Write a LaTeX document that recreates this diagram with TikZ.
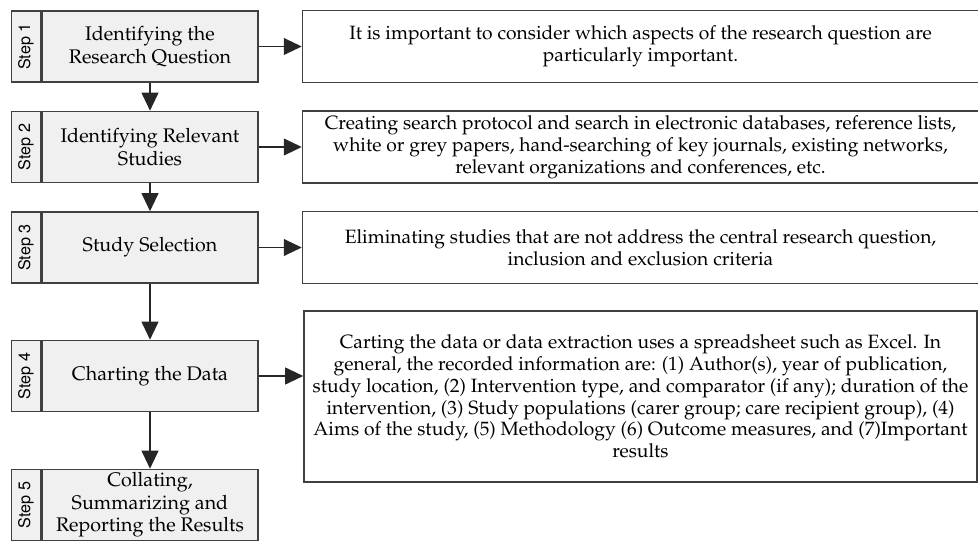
\documentclass[tikz,border=0pt]{standalone}
\usepackage[T1]{fontenc}
\usepackage{mathpazo}
\usepackage[scaled=0.92]{helvet}
\usepackage{graphicx}
\usetikzlibrary{positioning,arrows.meta}
\definecolor{edgegray}{RGB}{64,64,64}
\definecolor{boxgray}{RGB}{240,240,240}
\tikzset{stepbox/.style={draw=edgegray, fill=boxgray, line width=1.1pt,
      minimum width=5.4cm, minimum height=1.775cm, inner sep=0pt,
      align=center, font=\fontsize{14}{16}\selectfont}}
\tikzset{tagbox/.style={draw=edgegray, fill=boxgray, line width=1.1pt,
      minimum width=0.725cm, minimum height=1.775cm, inner sep=0pt,
      font=\sffamily\fontsize{12.5}{14}\selectfont}}
\tikzset{notebox/.style={draw=edgegray, fill=white, line width=1.1pt,
      minimum width=16.9cm, minimum height=1.8cm, inner sep=0pt,
      align=center, font=\fontsize{13.7}{15.5}\selectfont}}
\tikzset{flow/.style={draw=black!85, line width=1.1pt,
      -{Triangle[length=0.45cm, width=0.42cm]}}}

\begin{document}
\begin{tikzpicture}
    \useasboundingbox (0,0) rectangle (24.45,-13.575);

    % the five steps
    \node[stepbox] (s1) at (3.75,-1.1625) {Identifying the\\Research Question};
    \node[stepbox] (s2) at (3.75,-3.675) {Identifying Relevant\\Studies};
    \node[stepbox] (s3) at (3.75,-6.1875) {Study Selection};
    \node[stepbox] (s4) at (3.75,-9.4) {Charting the Data};
    \node[stepbox] (s5) at (3.75,-12.625) {Collating,\\Summarizing and\\Reporting the Results};

    \node[tagbox, left=0pt of s1] (t1) {\rotatebox{90}{Step 1}};
    \node[tagbox, left=0pt of s2] (t2) {\rotatebox{90}{Step 2}};
    \node[tagbox, left=0pt of s3] (t3) {\rotatebox{90}{Step 3}};
    \node[tagbox, left=0pt of s4] (t4) {\rotatebox{90}{Step 4}};
    \node[tagbox, left=0pt of s5] (t5) {\rotatebox{90}{Step 5}};

    % notes on the right
    \node[notebox, right=1.075cm of s1] (n1) {It is important to consider which aspects of the research question are\\particularly important.};
    \node[notebox, right=1.075cm of s2] (n2) {Creating search protocol and search in electronic databases, reference lists,\\white or grey papers, hand-searching of key journals, existing networks,\\relevant organizations and conferences, etc.};
    \node[notebox, right=1.075cm of s3] (n3) {Eliminating studies that are not address the central research question,\\inclusion and exclusion criteria};
    \node[notebox, minimum width=16.825cm, minimum height=4.275cm] (n4) at (16.0125,-9.9125) {Carting the data or data extraction uses a spreadsheet such as Excel. In\\general, the recorded information are: (1) Author(s), year of publication,\\study location, (2) Intervention type, and comparator (if any); duration of the\\intervention, (3) Study populations (carer group; care recipient group), (4)\\Aims of the study, (5) Methodology (6) Outcome measures, and (7)Important\\results};

    \draw[flow] (s1) -- (s2);
    \draw[flow] (s2) -- (s3);
    \draw[flow] (s3) -- (s4);
    \draw[flow] (s4) -- (s5);

    \draw[flow] (s1) -- (n1);
    \draw[flow] (s2) -- (n2);
    \draw[flow] (s3) -- (n3);
    \draw[flow] (s4.east) -- (s4.east -| n4.west);
\end{tikzpicture}
\end{document}
